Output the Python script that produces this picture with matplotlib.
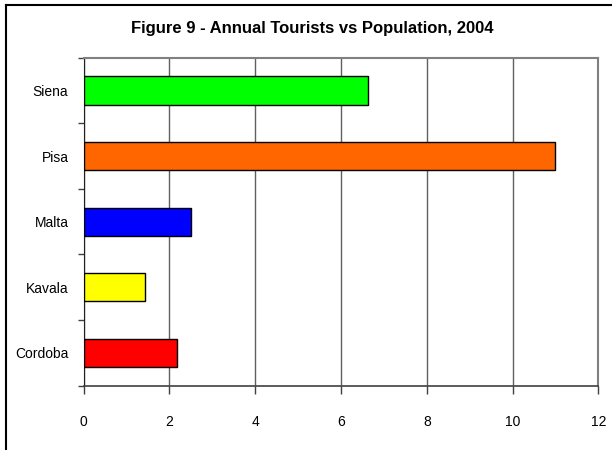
import matplotlib
matplotlib.use('Agg')
import matplotlib.pyplot as plt
from matplotlib.lines import Line2D

# tourists per resident, 2004
cities = ['Cordoba', 'Kavala', 'Malta', 'Pisa', 'Siena']
ratio = [2.18, 1.43, 2.5, 11.0, 6.62]
colors = ['#FF0000', '#FFFF00', '#0000FF', '#FF6600', '#00FF00']
xticks = [0, 2, 4, 6, 8, 10, 12]

plt.rcParams['font.family'] = ['Liberation Sans Narrow', 'Liberation Sans', 'DejaVu Sans']

W, H = 612, 450
fig = plt.figure(figsize=(W / 100, H / 100), dpi=100)

# outer chart border (left and top edges only are inside the canvas)
fig.add_artist(Line2D([6 / W, 6 / W], [0, 1 - 5 / H], color='black', lw=1.5))
fig.add_artist(Line2D([6 / W, 1], [1 - 5 / H, 1 - 5 / H], color='black', lw=1.5))

left, right, top, bottom = 83.7, 598.3, 57.7, 385.7
ax = fig.add_axes([left / W, 1 - bottom / H, (right - left) / W, (bottom - top) / H])

ypos = list(range(len(cities)))
ax.barh(ypos, ratio, height=0.43, color=colors, edgecolor='black', linewidth=1, zorder=3)

ax.set_xlim(0, 12)
ax.set_ylim(-0.5, len(cities) - 0.5)
ax.set_xticks(xticks)
ax.set_xticklabels([str(v) for v in xticks], fontsize=10)
ax.set_yticks(ypos)
ax.set_yticklabels(cities, fontsize=10)
ax.tick_params(axis='y', length=0, pad=11)
ax.tick_params(axis='x', length=6, width=1, color='#404040', pad=15, direction='out')

# category separator ticks on the value axis
ax.set_yticks([i - 0.5 for i in range(len(cities) + 1)], minor=True)
ax.tick_params(axis='y', which='minor', length=4, width=1, color='#404040', direction='out')

ax.grid(axis='x', color='#606060', linewidth=1, zorder=0)
for side in ['top', 'right']:
    ax.spines[side].set_color('#808080')
    ax.spines[side].set_linewidth(1.5)
ax.spines['left'].set_color('#202020')
ax.spines['bottom'].set_color('#404040')
ax.spines['bottom'].set_linewidth(1.2)

fig.text(312 / W, 1 - 28 / H, 'Figure 9 - Annual Tourists vs Population, 2004',
         ha='center', va='center', fontsize=12, fontweight='bold')

fig.savefig('out.png', dpi=100)
